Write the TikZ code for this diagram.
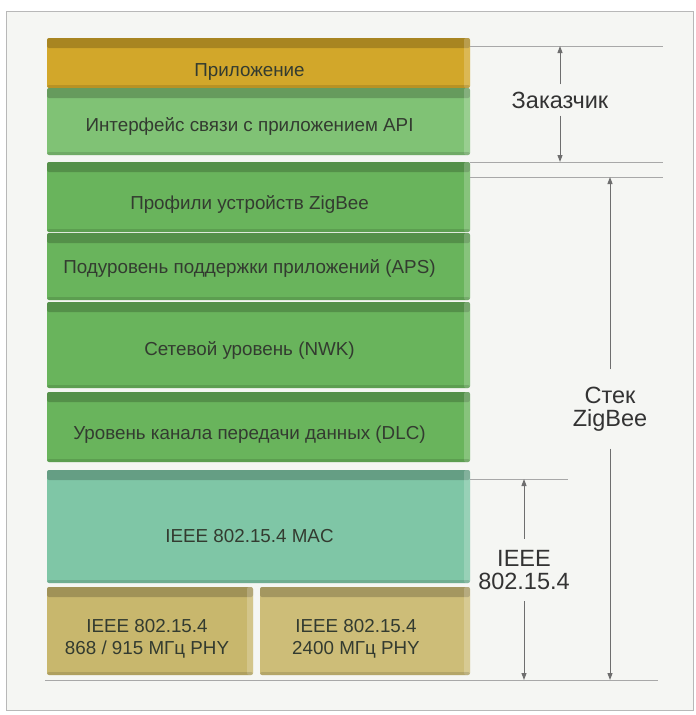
\documentclass[tikz,border=0pt]{standalone}
\usepackage{fontspec}
\setsansfont{Liberation Sans}
\usetikzlibrary{arrows.meta}
\definecolor{bgC}{HTML}{F5F6F3}
\definecolor{frameC}{HTML}{B8B8B8}
\definecolor{guideC}{HTML}{A8A8A8}
\definecolor{dimC}{HTML}{6E6E6E}
\definecolor{appC}{HTML}{D2A72A}
\definecolor{apiC}{HTML}{80C275}
\definecolor{grnC}{HTML}{69B45C}
\definecolor{macC}{HTML}{7FC6A6}
\definecolor{phyC}{HTML}{C8B76D}
\definecolor{phyD}{HTML}{CDBD78}
\definecolor{txtC}{HTML}{333B30}
\begin{document}
\begin{tikzpicture}[x=1pt, y=-1pt, >={Triangle[length=7pt,width=5pt]},
    layer/.style={rounded corners=2pt, inner sep=0pt, minimum width=423pt,
      path picture={
        \fill[black, opacity=0.2] (path picture bounding box.north west) rectangle ([yshift=-10pt]path picture bounding box.north east);
        \fill[white, opacity=0.2] ([xshift=-6pt]path picture bounding box.north east) rectangle (path picture bounding box.south east);
        \fill[black, opacity=0.12] ([yshift=3pt]path picture bounding box.south west) rectangle (path picture bounding box.south east);
      }},
    ltxt/.style={text=txtC, font=\sffamily\fontsize{18.8}{22}\selectfont, align=center, xshift=-9pt},
    guide/.style={draw=guideC, line width=1pt},
    dim/.style={draw=dimC, line width=1pt, ->},
    side/.style={text=black!80, font=\sffamily\fontsize{23.5}{23.5}\selectfont, align=center, inner sep=7pt}]
  % page and frame
  \fill[white] (0,0) rectangle (696,715);
  \draw[draw=frameC, fill=bgC, line width=1pt] (6,11) rectangle (693,710);
  % the stack
  \foreach \nm/\ya/\yb/\col/\dy/\txt in {
      app/38/88/appC/9/Приложение,
      api/88/155/apiC/5/Интерфейс связи с приложением API,
      prof/162/232/grnC/7/Профили устройств ZigBee,
      aps/233/300/grnC/2/Подуровень поддержки приложений (APS),
      nwk/302/388/grnC/5/Сетевой уровень (NWK),
      dlc/392/462/grnC/8/Уровень канала передачи данных (DLC),
      mac/470/583/macC/10/IEEE 802.15.4 MAC} {
    \node[layer, fill=\col, minimum height={\yb-\ya},
      label={[ltxt, yshift=-\dy pt]center:\txt}] (\nm) at (258.5,{(\ya+\yb)/2}) {};
  }
  \node[layer, fill=phyC, minimum width=206pt, minimum height=88pt,
    label={[ltxt, xshift=6pt, yshift=-8pt]center:IEEE 802.15.4\\868 / 915 МГц PHY}] (phyA) at (150,631) {};
  \node[layer, fill=phyD, minimum width=210pt, minimum height=88pt,
    label={[ltxt, yshift=-8pt]center:IEEE 802.15.4\\2400 МГц PHY}] (phyB) at (365,631) {};
  % guide lines
  \coordinate (g1) at (663,46);
  \coordinate (g2) at (663,162);
  \coordinate (g3) at (663,177);
  \coordinate (g4) at (568,479);
  \coordinate (baseL) at (45,680);
  \coordinate (baseR) at (658,680);
  \draw[guide] (g1 -| app.east) -- (g1);
  \draw[guide] (g2 -| api.east) -- (g2);
  \draw[guide] (g3 -| prof.east) -- (g3);
  \draw[guide] (g4 -| mac.east) -- (g4);
  \draw[guide] (baseL) -- (baseR);
  % dimension labels
  \node[side] (cust) at (560,100) {Заказчик};
  \node[side, inner sep=17pt] (zb) at (610,409) {Стек\\ZigBee};
  \node[side, inner sep=11pt] (ieee) at (524,570) {IEEE\\802.15.4};
  \draw[dim] (cust) -- (cust |- g1);
  \draw[dim] (cust) -- (cust |- g2);
  \draw[dim] (zb) -- (zb |- g3);
  \draw[dim] (zb) -- (zb |- baseR);
  \draw[dim] (ieee) -- (ieee |- g4);
  \draw[dim] (ieee) -- (ieee |- baseR);
\end{tikzpicture}
\end{document}
